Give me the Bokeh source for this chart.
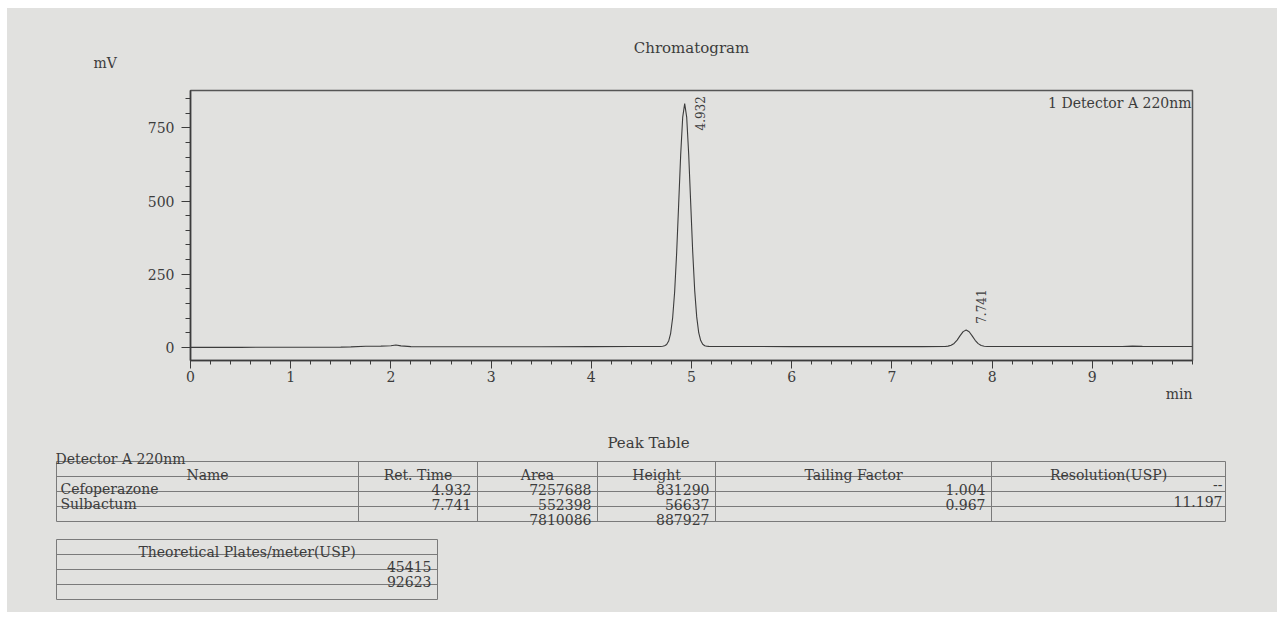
import numpy as np
from bokeh.plotting import figure
from bokeh.models import Range1d, FixedTicker, Label, Title, ColumnDataSource
from bokeh.layouts import column
from bokeh.embed import file_html
from bokeh.resources import INLINE
from bokeh.core.properties import value

# ---------------- data ----------------
time_min = [0.00, 0.50, 1.00, 1.50, 1.60, 1.75, 1.90, 2.00, 2.05, 2.10, 2.20, 2.60,
            3.00, 3.50, 4.00, 4.40, 4.60,
            4.692, 4.712, 4.732, 4.752, 4.772, 4.792, 4.812, 4.832, 4.852, 4.872, 4.892, 4.912,
            4.932,
            4.952, 4.972, 4.992, 5.012, 5.032, 5.052, 5.072, 5.092, 5.112, 5.132, 5.152, 5.172,
            5.30, 5.60, 6.00, 6.50, 7.00, 7.30,
            7.531, 7.561, 7.591, 7.621, 7.651, 7.681, 7.711, 7.741,
            7.771, 7.801, 7.831, 7.861, 7.891, 7.921, 7.951,
            8.20, 8.60, 9.00, 9.30, 9.40, 9.50, 9.70, 10.00]
signal_mv = [0.0, 0.0, 0.3, 0.8, 1.5, 3.5, 4.0, 5.5, 8.0, 5.0, 2.5, 2.0,
             2.0, 2.2, 2.5, 3.0, 3.1,
             3.1, 3.6, 5.2, 9.7, 21.5, 48, 101, 191, 324, 490, 658, 786,
             833,
             787, 660, 493, 327, 194, 104, 50, 23, 10.5, 5.6, 3.8, 3.3,
             3.0, 2.8, 2.5, 2.5, 2.5, 2.6,
             3.1, 4.1, 6.9, 13.4, 24.8, 40.0, 53.7, 59.3,
             53.3, 39.3, 24.0, 12.6, 6.4, 3.7, 3.0,
             2.8, 2.8, 2.8, 3.0, 4.0, 3.2, 2.8, 2.8]

peak_rt = [4.932, 7.741]
peak_labels = ["4.932", "7.741"]
peak_height_mv = [831.290, 56.637]

x_major_ticks = [0, 1, 2, 3, 4, 5, 6, 7, 8, 9]
y_major_ticks = [0, 250, 500, 750]

names = ["Cefoperazone", "Sulbactum"]
ret_times = ["4.932", "7.741"]
areas = ["7257688", "552398"]
area_total = "7810086"
heights = ["831290", "56637"]
height_total = "887927"
tailing = ["1.004", "0.967"]
resolution = ["--", "11.197"]
plates = ["45415", "92623"]
headers = ["Name", "Ret. Time", "Area", "Height", "Tailing Factor", "Resolution(USP)"]

# ---------------- style ----------------
BG = "#e1e1df"
INK = "#3c3c3c"
FONT = "DejaVu Serif"
FS = "14px"

X0, X1 = 0, 10
Y0, Y1 = -45, 878
FRAME_H = 270

# ---------------- chromatogram ----------------
p = figure(width=1270, height=412, x_range=Range1d(X0, X1), y_range=Range1d(Y0, Y1),
           output_backend="svg", toolbar_location=None, frame_align=False,
           min_border_left=183, min_border_right=85, min_border_top=82, min_border_bottom=60)
p.background_fill_color = BG
p.border_fill_color = BG
p.outline_line_color = "#555555"
p.outline_line_width = 1.5
p.grid.visible = False

p.line(time_min, signal_mv, line_color=INK, line_width=1.1)

px_per_mv = FRAME_H / (Y1 - Y0)
lab_y = [min(h + 7 / px_per_mv, Y1 - 40 / px_per_mv) for h in peak_height_mv]
src = ColumnDataSource(dict(x=peak_rt, y=lab_y, t=peak_labels))
p.text(x="x", y="y", text="t", source=src, angle=np.pi / 2, x_offset=15,
       text_align="left", text_baseline="middle", text_font=value(FONT),
       text_font_size="12px", text_color=INK)

p.xaxis.ticker = FixedTicker(ticks=x_major_ticks,
                             minor_ticks=list(np.round(np.arange(0, 10.001, 0.2), 2)))
p.yaxis.ticker = FixedTicker(ticks=y_major_ticks,
                             minor_ticks=list(range(0, 900, 50)))
for ax in (p.xaxis, p.yaxis):
    ax.axis_line_color = INK
    ax.axis_line_width = 1.5
    ax.major_tick_line_color = INK
    ax.minor_tick_line_color = INK
    ax.major_tick_in = 0
    ax.minor_tick_in = 0
    ax.major_label_text_font = FONT
    ax.major_label_text_font_size = FS
    ax.major_label_text_color = INK
p.xaxis.major_tick_out = 8
p.xaxis.minor_tick_out = 4
p.xaxis.major_label_standoff = 2
p.yaxis.major_tick_out = 9
p.yaxis.minor_tick_out = 5
p.yaxis.major_label_standoff = 7

def style_title(t, size=FS):
    t.text_font = FONT
    t.text_font_size = size
    t.text_font_style = "normal"
    t.text_color = INK

mv_title = Title(text="mV", align="left", offset=-97, standoff=40)
style_title(mv_title)
p.add_layout(mv_title, "above")

p.title.text = "Chromatogram"
p.title.align = "center"
p.title.offset = -35
p.title.standoff = -49
style_title(p.title, "15px")

min_title = Title(text="min", align="right", offset=0, standoff=-2)
style_title(min_title)
p.add_layout(min_title, "below")

p.add_layout(Label(x=1001, y=258, x_units="screen", y_units="screen",
                   text="1 Detector A 220nm", text_align="right", text_baseline="middle",
                   text_font=FONT, text_font_size=FS, text_color=INK))

# ---------------- peak table (coordinates of the printed page) ----------------
t = figure(width=1270, height=192, x_range=Range1d(7, 1277), y_range=Range1d(612, 420),
           output_backend="svg", toolbar_location=None, min_border=0, frame_align=False,
           x_axis_location=None, y_axis_location=None)
t.background_fill_color = BG
t.border_fill_color = BG
t.outline_line_color = None
t.grid.visible = False

col_edges = [56, 358, 477, 597, 715, 991, 1225]
row_edges = [461, 476, 491, 506, 521]
LINE = "#7a7a7a"

t.segment(x0=[col_edges[0]] * len(row_edges), y0=row_edges,
          x1=[col_edges[-1]] * len(row_edges), y1=row_edges, line_color=LINE, line_width=1)
t.segment(x0=col_edges, y0=[row_edges[0]] * len(col_edges),
          x1=col_edges, y1=[row_edges[-1]] * len(col_edges), line_color=LINE, line_width=1)

pl_x = [56, 437]
pl_rows = [539, 554, 569, 584, 599]
t.segment(x0=[pl_x[0]] * len(pl_rows), y0=pl_rows, x1=[pl_x[1]] * len(pl_rows), y1=pl_rows,
          line_color=LINE, line_width=1)
t.segment(x0=pl_x, y0=[pl_rows[0]] * 2, x1=pl_x, y1=[pl_rows[-1]] * 2,
          line_color=LINE, line_width=1)

def txt(xs, ys, texts, align, size=FS):
    s = ColumnDataSource(dict(x=xs, y=ys, t=texts))
    t.text(x="x", y="y", text="t", source=s, text_align=align, text_baseline="alphabetic",
           text_font=value(FONT), text_font_size=size, text_color=INK)

txt([648], [442], ["Peak Table"], "center", "15px")
txt([55], [458], ["Detector A 220nm"], "left")

centers = [(a + b) / 2 for a, b in zip(col_edges[:-1], col_edges[1:])]
txt(centers, [row_edges[1] - 2] * len(headers), headers, "center")

base = [row_edges[2] - 2.5, row_edges[3] - 2.5]
txt([col_edges[0] + 4] * 2, base, names, "left")
txt([col_edges[2] - 6] * 2, base, ret_times, "right")
txt([col_edges[3] - 6] * 3, base + [row_edges[4] - 2.5], areas + [area_total], "right")
txt([col_edges[4] - 6] * 3, base + [row_edges[4] - 2.5], heights + [height_total], "right")
txt([col_edges[5] - 6] * 2, base, tailing, "right")
txt([col_edges[6] - 3] * 2, [base[0] - 5, base[1] - 3], resolution, "right")

txt([(pl_x[0] + pl_x[1]) / 2], [pl_rows[1] - 3], ["Theoretical Plates/meter(USP)"], "center")
txt([pl_x[1] - 6] * 2, [pl_rows[2] - 3, pl_rows[3] - 3], plates, "right")

layout = column(p, t, spacing=0, margin=(8, 0, 0, 7), styles={"background-color": BG})
open("out.html", "w").write(file_html(layout, INLINE))
